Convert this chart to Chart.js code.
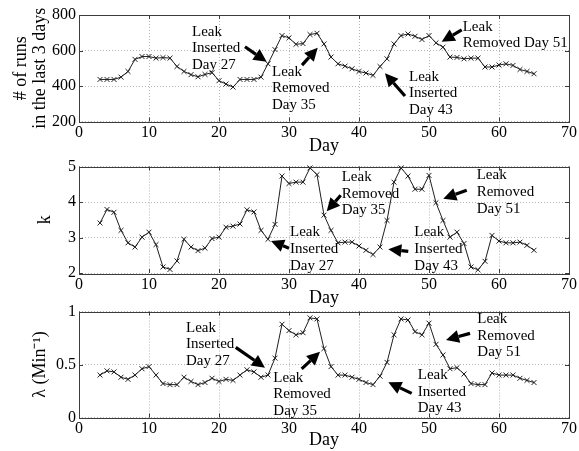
<!DOCTYPE html>
<html>
<head>
<meta charset="utf-8">
<script src="https://cdn.jsdelivr.net/npm/chart.js@4/dist/chart.umd.min.js"></script>
<style>
  html, body { margin: 0; padding: 0; background: #fff; }
  #wrap { position: relative; width: 579px; height: 451px; overflow: hidden; }
  #wrap canvas { position: absolute; left: 0; top: 0; }
</style>
</head>
<body>
<div id="wrap">
  <canvas id="runsChart" width="579" height="451"></canvas>
  <canvas id="kChart" width="579" height="451"></canvas>
  <canvas id="lambdaChart" width="579" height="451"></canvas>
</div>
<script>
// ---- data ----
const days = [3,4,5,6,7,8,9,10,11,12,13,14,15,16,17,18,19,20,21,22,23,24,25,26,27,28,29,30,31,32,33,34,35,
              36,37,38,39,40,41,42,43,44,45,46,47,48,49,50,51,52,53,54,55,56,57,58,59,60,61,62,63,64,65];

const runsLast3Days = [437,437,437,450,482,550,566,566,557,560,557,510,482,464,452,465,475,430,411,394,
                       437,437,437,450,525,605,684,671,635,639,690,697,637,
                       563,525,512,497,482,473,460,510,553,637,684,693,680,662,684,643,619,563,561,553,
                       557,557,507,507,518,525,516,493,482,469];

const kValues = [3.41,3.79,3.71,3.20,2.85,2.73,3.01,3.15,2.80,2.17,2.10,2.34,2.95,2.73,2.63,2.70,2.97,3.01,
                 3.29,3.32,3.38,3.78,3.72,3.20,2.95,3.37,4.73,4.52,4.56,4.56,4.96,4.77,3.63,
                 3.20,2.85,2.87,2.87,2.76,2.64,2.52,2.73,3.48,4.56,4.96,4.73,4.36,4.36,4.75,3.98,3.48,
                 3.01,3.15,2.83,2.17,2.09,2.33,3.06,2.90,2.85,2.85,2.87,2.78,2.64];

const lambdaValues = [0.40,0.44,0.43,0.38,0.36,0.40,0.46,0.48,0.40,0.32,0.31,0.31,0.38,0.34,0.31,0.33,0.37,
                      0.34,0.36,0.35,0.40,0.45,0.43,0.38,0.40,0.56,0.88,0.82,0.78,0.80,0.94,0.93,0.65,
                      0.48,0.40,0.40,0.38,0.36,0.33,0.31,0.39,0.52,0.78,0.93,0.92,0.81,0.78,0.89,0.69,0.59,
                      0.46,0.47,0.41,0.32,0.31,0.31,0.42,0.40,0.40,0.40,0.37,0.35,0.33];

const dayTicks = { min: 0, max: 70, step: 10 };
const runsTicks = { min: 200, max: 800, step: 200 };
const kTicks = { min: 2, max: 5, step: 1 };
const lambdaTicks = { min: 0, max: 1, step: 0.5 };

// ---- callouts: text anchor (first line, left edge) and arrow tail -> tip, in data units ----
const runsNotes = [
  { at: [16.14, 706], lines: ['Leak', 'Inserted', 'Day 27'], from: [23.71, 621], to: [26.81, 537] },
  { at: [27.57, 481], lines: ['Leak', 'Removed', 'Day 35'], from: [31.86, 518], to: [34.10, 616] },
  { at: [47.14, 452], lines: ['Leak', 'Inserted', 'Day 43'], from: [46.57, 344], to: [43.71, 472] },
  { at: [54.81, 734], lines: ['Leak', 'Removed Day 51'], from: [54.67, 716], to: [51.81, 650] }
];
const kNotes = [
  { at: [30.14, 3.15], lines: ['Leak', 'Inserted', 'Day 27'], from: [30.00, 2.70], to: [27.43, 2.90] },
  { at: [37.53, 4.70], lines: ['Leak', 'Removed', 'Day 35'], from: [37.39, 4.19], to: [35.39, 3.74] },
  { at: [47.90, 3.14], lines: ['Leak', 'Inserted', 'Day 43'], from: [47.04, 2.61], to: [44.19, 2.67] },
  { at: [56.81, 4.75], lines: ['Leak', 'Removed', 'Day 51'], from: [55.39, 4.33], to: [52.04, 4.09] }
];
const lambdaNotes = [
  { at: [15.29, 0.847], lines: ['Leak', 'Inserted', 'Day 27'], from: [22.39, 0.662], to: [26.57, 0.47] },
  { at: [27.76, 0.375], lines: ['Leak', 'Removed', 'Day 35'], from: [31.81, 0.458], to: [34.43, 0.62] },
  { at: [48.39, 0.40], lines: ['Leak', 'Inserted', 'Day 43'], from: [47.53, 0.228], to: [44.19, 0.332] },
  { at: [56.90, 0.929], lines: ['Leak', 'Removed', 'Day 51'], from: [55.86, 0.794], to: [52.43, 0.731] }
];

// ---- drawing ----
const SERIF = '"Liberation Serif", "Times New Roman", serif';
Chart.defaults.font.family = SERIF;
Chart.defaults.color = '#000';

function drawArrow(ctx, fx, fy, tx, ty) {
  const ang = Math.atan2(ty - fy, tx - fx);
  const headLen = 13, headHalf = 6.5;
  const bx = tx - headLen * Math.cos(ang), by = ty - headLen * Math.sin(ang);
  ctx.beginPath();
  ctx.lineWidth = 3.2;
  ctx.lineCap = 'butt';
  ctx.moveTo(fx, fy);
  ctx.lineTo(bx, by);
  ctx.stroke();
  ctx.beginPath();
  ctx.moveTo(tx, ty);
  ctx.lineTo(bx + headHalf * Math.sin(ang), by - headHalf * Math.cos(ang));
  ctx.lineTo(bx - headHalf * Math.sin(ang), by + headHalf * Math.cos(ang));
  ctx.closePath();
  ctx.fill();
}

const boxAndNotes = {
  id: 'boxAndNotes',
  afterDraw(chart, args, opts) {
    const { ctx, chartArea: a, scales: { x, y } } = chart;
    ctx.save();
    // inward tick marks on all four sides
    ctx.strokeStyle = '#3c3c3c';
    ctx.lineWidth = 1;
    ctx.beginPath();
    x.ticks.forEach(t => {
      const px = Math.round(x.getPixelForValue(t.value)) + 0.5;
      ctx.moveTo(px, a.bottom); ctx.lineTo(px, a.bottom - 4);
      ctx.moveTo(px, a.top); ctx.lineTo(px, a.top + 4);
    });
    y.ticks.forEach(t => {
      const py = Math.round(y.getPixelForValue(t.value)) + 0.5;
      ctx.moveTo(a.left, py); ctx.lineTo(a.left + 4, py);
      ctx.moveTo(a.right, py); ctx.lineTo(a.right - 4, py);
    });
    ctx.stroke();
    // axes box
    ctx.strokeRect(Math.round(a.left) + 0.5, Math.round(a.top) + 0.5,
                   Math.round(a.right - a.left), Math.round(a.bottom - a.top));

    // callouts
    ctx.fillStyle = '#000';
    ctx.strokeStyle = '#000';
    ctx.font = '15px ' + SERIF;
    ctx.textAlign = 'left';
    ctx.textBaseline = 'middle';
    (opts.notes || []).forEach(n => {
      const lx = x.getPixelForValue(n.at[0]);
      const ly = y.getPixelForValue(n.at[1]);
      n.lines.forEach((s, i) => ctx.fillText(s, lx, ly + i * 16.7));
      drawArrow(ctx,
        x.getPixelForValue(n.from[0]), y.getPixelForValue(n.from[1]),
        x.getPixelForValue(n.to[0]), y.getPixelForValue(n.to[1]));
    });
    ctx.restore();
  }
};

// plain number labels: 0, 0.5, 1 rather than 0.0 / 1.0
const plainLabel = v => String(Math.round(v * 1000) / 1000);

function makePanel(id, values, yt, yTitle, yTitlePad, yTitleLH, pad, xAxisH, notes) {
  return new Chart(document.getElementById(id), {
    type: 'line',
    data: {
      datasets: [{
        data: days.map((d, i) => ({ x: d, y: values[i] })),
        borderColor: '#1e1e1e',
        borderWidth: 1,
        pointStyle: 'crossRot',
        pointRadius: 3.5,
        pointBorderWidth: 1,
        pointBorderColor: '#1e1e1e',
        pointBackgroundColor: '#1e1e1e',
        fill: false,
        tension: 0,
        clip: false
      }]
    },
    options: {
      responsive: false,
      animation: false,
      events: [],
      layout: { padding: { top: pad.top, left: 0, right: 9, bottom: pad.bottom } },
      plugins: {
        legend: { display: false },
        tooltip: { enabled: false },
        boxAndNotes: { notes }
      },
      scales: {
        x: {
          type: 'linear',
          min: dayTicks.min, max: dayTicks.max,
          ticks: { stepSize: dayTicks.step, font: { size: 16 }, padding: 2, maxRotation: 0, callback: plainLabel },
          grid: { color: '#b4b4b4', lineWidth: 1, drawTicks: false },
          border: { display: false, dash: [1, 2] },
          title: { display: true, text: 'Day', font: { size: 18 }, padding: 0 },
          afterFit: s => { s.height = xAxisH; }
        },
        y: {
          min: yt.min, max: yt.max,
          ticks: { stepSize: yt.step, font: { size: 16 }, padding: 3, callback: plainLabel },
          grid: { color: '#b4b4b4', lineWidth: 1, drawTicks: false },
          border: { display: false, dash: [1, 2] },
          title: { display: true, text: yTitle, font: { size: 18, lineHeight: yTitleLH }, padding: { top: yTitlePad, bottom: 0 } },
          afterFit: s => { s.width = 79; }
        }
      }
    },
    plugins: [boxAndNotes]
  });
}

// vertical placement of the three stacked panels
makePanel('runsChart', runsLast3Days, runsTicks, ['# of runs', 'in the last 3 days'], 11, 1.1,
          { top: 15, bottom: 451 - 121.5 - 35.5 }, 35.5, runsNotes);
makePanel('kChart', kValues, kTicks, 'k', 34, 1.2,
          { top: 166.5, bottom: 451 - 273 - 36 }, 36, kNotes);
makePanel('lambdaChart', lambdaValues, lambdaTicks, 'λ (Min\u207B\u00B9)', 29, 1.2,
          { top: 311.5, bottom: 451 - 417.5 - 33.5 }, 33.5, lambdaNotes);
</script>
</body>
</html>
